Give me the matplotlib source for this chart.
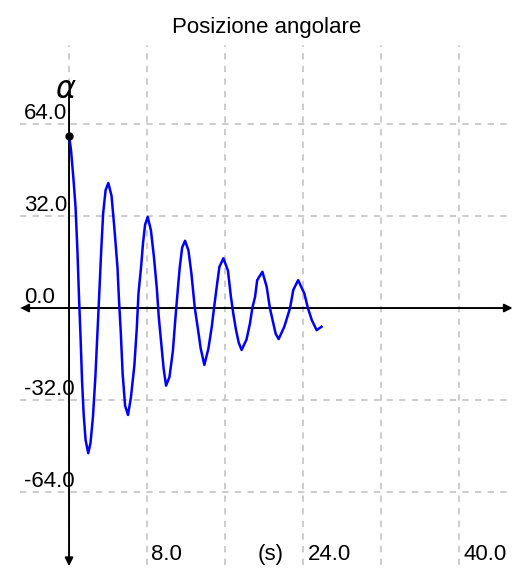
import matplotlib
matplotlib.use("Agg")
import matplotlib.pyplot as plt

# angular position (time in s, angle in degrees)
time_s = [0, 0.2, 0.45, 0.67, 0.87, 1.03, 1.18, 1.33, 1.5, 1.7, 1.97,
          2.2, 2.45, 2.7, 2.95, 3.1, 3.3, 3.5, 3.75, 4.03,
          4.36, 4.67, 4.97, 5.12, 5.3, 5.5, 5.75, 6.05,
          6.35, 6.7, 6.95, 7.12, 7.38, 7.6, 7.8, 8.07,
          8.4, 8.7, 9.0, 9.2, 9.45, 9.7, 9.95,
          10.3, 10.65, 10.9, 11.12, 11.35, 11.6, 11.9,
          12.25, 12.55, 12.9, 13.25, 13.5, 13.88,
          14.3, 14.64, 14.87, 15.15, 15.42, 15.83,
          16.3, 16.6, 16.85, 17.13, 17.4, 17.7,
          18.2, 18.56, 18.8, 19.08, 19.3, 19.83,
          20.27, 20.6, 20.95, 21.2, 21.5,
          22.08, 22.67, 23.0, 23.5,
          24.13, 24.5, 24.9, 25.4, 25.9]
angle = [60, 55, 45, 35, 19, 3, -10, -25, -37, -46, -50.5,
         -47, -38, -24, -6, 5, 20, 33, 41, 43.5,
         39, 27, 14, 3, -8, -23, -34, -37.2,
         -31, -20, -7, 5, 14, 23, 29, 31.7,
         27, 18, 7, -3, -12, -21, -27,
         -24, -15, -4, 5, 14, 21, 23.4,
         20, 12, 0, -8, -14, -19.8,
         -14, -6.5, 0, 7.4, 14.3, 17.3,
         13, 4, -2, -7.7, -12, -14.6,
         -11, -5.3, 0, 3.9, 9.7, 12.6,
         7.4, 0, -5.3, -9, -10.8,
         -6.5, 0, 6.3, 9.7,
         5.1, 0, -4.2, -7.7, -6.5]

x_grid = [0, 8, 16, 24, 32, 40]
y_grid = [-64, -32, 0, 32, 64]
x_labels = {8: "8.0", 24: "24.0", 40: "40.0"}
y_labels = {64: "64.0", 32: "32.0", 0: "0.0", -32: "-32.0", -64: "-64.0"}

FONT = ["Liberation Sans", "DejaVu Sans"]


def main():
    fig = plt.figure(figsize=(5.29, 5.72), dpi=100)
    ax = fig.add_axes([20 / 529, 7 / 572, 490 / 529, 520 / 572])
    ax.set_xlim(-5.03, 45.23)
    ax.set_ylim(-89.4, 91.5)

    # dashed grid, no ticks, no frame
    ax.set_xticks(x_grid)
    ax.set_yticks(y_grid)
    ax.tick_params(length=0, labelbottom=False, labelleft=False)
    for s in ax.spines.values():
        s.set_visible(False)
    ax.grid(True, color="#c8c8c8", lw=1.3, ls=(0, (3.5, 3.5)))
    ax.set_axisbelow(True)

    # axes with arrows
    ax.annotate("", xy=(45.5, 0), xytext=(-5.0, 0), annotation_clip=False,
                arrowprops=dict(arrowstyle="<|-|>", color="black", lw=1.4,
                                mutation_scale=12, shrinkA=0, shrinkB=0))
    ax.annotate("", xy=(0, -89.8), xytext=(0, 75), annotation_clip=False,
                arrowprops=dict(arrowstyle="-|>", color="black", lw=1.4,
                                mutation_scale=12, shrinkA=0, shrinkB=0))

    ax.plot(time_s, angle, color="#0000ff", lw=1.8, zorder=3)
    ax.plot(time_s[0], angle[0], "o", color="black", ms=5, zorder=4)

    for v, lab in y_labels.items():
        ax.text(-4.6, v + 1.6, lab, family=FONT, fontsize=16,
                ha="left", va="baseline")
    for t, lab in x_labels.items():
        ax.text(t + 0.45, -87.7, lab, family=FONT, fontsize=16,
                ha="left", va="baseline")
    ax.text(19.3, -87.7, "(s)", family=FONT, fontsize=16,
            ha="left", va="baseline")

    ax.text(-0.3, 76, r"$\alpha$", fontsize=22, ha="center", va="center")
    fig.text(0.5038, 1 - 33 / 572, "Posizione angolare", family=FONT,
             fontsize=16, ha="center", va="baseline")

    fig.savefig("out.png", dpi=100)


if __name__ == "__main__":
    main()
